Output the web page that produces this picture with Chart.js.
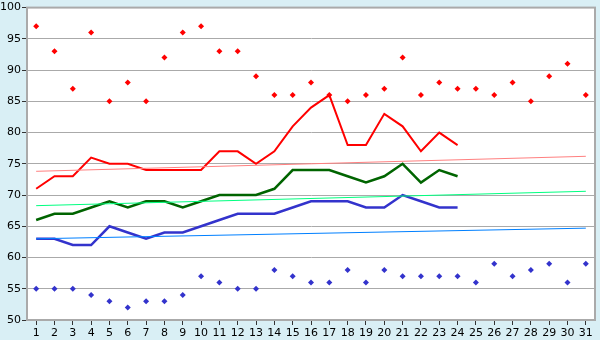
<!DOCTYPE html>
<html>
<head>
<meta charset="utf-8">
<script src="https://cdn.jsdelivr.net/npm/chart.js@4"></script>
<style>
  html, body { margin: 0; padding: 0; background: #d9eff5; }
  #wrap { width: 600px; height: 340px; }
</style>
</head>
<body>
<div id="wrap"><canvas id="tempChart" width="600" height="340"></canvas></div>
<script>
const days = [];
for (let d = 1; d <= 31; d++) days.push(String(d));

const maxPoints = [97, 93, 87, 96, 85, 88, 85, 92, 96, 97, 93, 93, 89, 86, 86, 88, 86, 85, 86, 87, 92, 86, 88, 87, 87, 86, 88, 85, 89, 91, 86];
const minPoints = [55, 55, 55, 54, 53, 52, 53, 53, 54, 57, 56, 55, 55, 58, 57, 56, 56, 58, 56, 58, 57, 57, 57, 57, 56, 59, 57, 58, 59, 56, 59];
const highLine = [71, 73, 73, 76, 75, 75, 74, 74, 74, 74, 77, 77, 75, 77, 81, 84, 86, 78, 78, 83, 81, 77, 80, 78];
const avgLine = [66, 67, 67, 68, 69, 68, 69, 69, 68, 69, 70, 70, 70, 71, 74, 74, 74, 73, 72, 73, 75, 72, 74, 73];
const lowLine = [63, 63, 62, 62, 65, 64, 63, 64, 64, 65, 66, 67, 67, 67, 68, 69, 69, 69, 68, 68, 70, 69, 68, 68];
// trend lines: start and end values only
const highTrend = [73.8, 76.2];
const avgTrend = [68.3, 70.6];
const lowTrend = [63.0, 64.7];
const yTicks = [50, 55, 60, 65, 70, 75, 80, 85, 90, 95, 100];

function trend(ends) {
  return [{ x: days[0], y: ends[0] }, { x: days[days.length - 1], y: ends[1] }];
}

// paint the page colour and the white plot area with a frame
const frame = {
  id: "frame",
  beforeDraw(chart) {
    const c = chart.ctx, a = chart.chartArea;
    c.save();
    c.fillStyle = "#d9eff5";
    c.fillRect(0, 0, chart.width, chart.height);
    c.fillStyle = "#ffffff";
    c.fillRect(a.left, a.top, a.right - a.left, a.bottom - a.top);
    c.restore();
  },
  afterDraw(chart) {
    const c = chart.ctx, a = chart.chartArea;
    c.save();
    c.strokeStyle = "#aaaaaa";
    c.lineWidth = 2;
    c.strokeRect(a.left, a.top, a.right - a.left, a.bottom - a.top);
    c.restore();
  }
};

const lineSet = (data, color, width) => ({
  type: "line",
  data: data,
  borderColor: color,
  backgroundColor: color,
  borderWidth: width,
  pointRadius: 0,
  tension: 0,
  fill: false
});

const dotSet = (data, color) => ({
  type: "line",
  data: data,
  showLine: false,
  borderColor: color,
  backgroundColor: color,
  pointStyle: "rectRot",
  pointRadius: 3,
  pointBorderWidth: 0
});

new Chart(document.getElementById("tempChart"), {
  type: "line",
  data: {
    labels: days,
    datasets: [
      lineSet(trend(highTrend), "#ff8080", 1),
      lineSet(trend(avgTrend), "#00ff80", 1),
      lineSet(trend(lowTrend), "#0080ff", 1),
      lineSet(highLine, "#ff0000", 2),
      lineSet(avgLine, "#006400", 2.5),
      lineSet(lowLine, "#3333cc", 2.5),
      dotSet(maxPoints, "#ff0000"),
      dotSet(minPoints, "#3333cc")
    ]
  },
  plugins: [frame],
  options: {
    responsive: false,
    animation: false,
    layout: { padding: { top: 5, right: 5, left: 0, bottom: 0 } },
    plugins: { legend: { display: false }, tooltip: { enabled: false } },
    scales: {
      x: {
        offset: true,
        grid: { drawOnChartArea: false, drawTicks: true, tickLength: 5, tickColor: "#333333", offset: false },
        border: { color: "#aaaaaa", width: 2 },
        ticks: {
          color: "#000000",
          font: { family: "DejaVu Sans", size: 11 },
          padding: 2,
          maxRotation: 0,
          autoSkip: false
        },
        afterFit(scale) { scale.height = 20; }
      },
      y: {
        min: 50,
        max: 100,
        afterBuildTicks(scale) { scale.ticks = yTicks.map(v => ({ value: v })); },
        grid: { color: "#aaaaaa", lineWidth: 1, drawTicks: true, tickLength: 5, tickColor: "#333333" },
        border: { color: "#aaaaaa", width: 2 },
        ticks: {
          color: "#000000",
          font: { family: "DejaVu Sans", size: 11 },
          padding: 1
        },
        afterFit(scale) { scale.width = 27; }
      }
    }
  }
});
</script>
</body>
</html>
